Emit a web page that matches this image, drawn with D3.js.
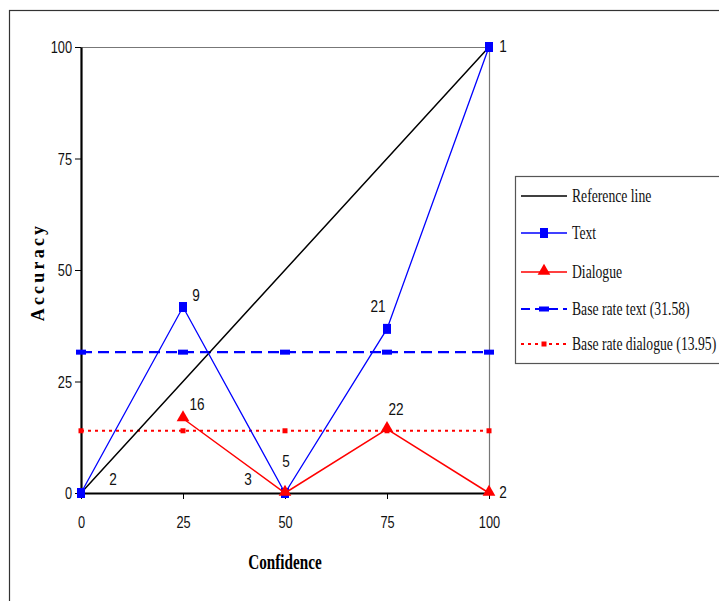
<!DOCTYPE html>
<meta charset="utf-8">
<script src="https://d3js.org/d3.v7.min.js"></script>
<style>
    body { margin: 0; background: #fff; }
    svg { display: block; }
</style>
<div id="viz_area"></div>
<script>
    // data
    var confidence = [0, 25, 50, 75, 100]
    var referenceLine = [0, 25, 50, 75, 100]
    var textAcc = [0, 41.7, 0, 36.8, 100]
    var dialogueAcc = [null, 16.7, 0, 14.3, 0]
    var textCounts = [2, 9, 5, 21, 1]
    var dialogueCounts = [null, 16, 3, 22, 2]
    var baseRateText = 31.58
    var baseRateDialogue = 13.95
    var xTicks = [0, 25, 50, 75, 100]
    var yTicks = [0, 25, 50, 75, 100]
    var legendLabels = ["Reference line", "Text", "Dialogue", "Base rate text (31.58)", "Base rate dialogue (13.95)"]

    // label offsets (layout only)
    var textLabelOff = [[32, -8], [13, -6], [1, -26], [-9, -17], [14, 5]]
    var dialogueLabelOff = [null, [14, -9], [-37, -8], [9, -14], [14, 5]]

    var W = 719, H = 601
    var margin = { left: 81, top: 47 }
    var w = 489 - 81, h = 493 - 47

    var svg = d3.select("#viz_area").append("svg")
        .attr("width", W).attr("height", H)

    // outer frame
    svg.append("rect")
        .attr("x", 9.5).attr("y", 10.5)
        .attr("width", 740).attr("height", 640)
        .attr("fill", "none").attr("stroke", "#333").attr("stroke-width", 1.2)

    var g = svg.append("g").attr("transform", "translate(" + margin.left + "," + margin.top + ")")

    var x = d3.scaleLinear().domain([0, 100]).range([0, w])
    var y = d3.scaleLinear().domain([0, 100]).range([h, 0])

    var sansFont = "'Liberation Sans', Arial, sans-serif"
    var serifFont = "'Liberation Serif', 'Times New Roman', serif"

    // plot frame (top + right)
    g.append("path")
        .attr("d", "M0,0.5H" + (w + 0.5) + "V" + h)
        .attr("fill", "none").attr("stroke", "#777").attr("stroke-width", 1.2)

    // y axis
    var yAxis = g.append("g")
        .call(d3.axisLeft(y).tickValues(yTicks).tickSize(6).tickSizeOuter(0).tickFormat(d3.format("d")))
    yAxis.select(".domain").attr("stroke", "#000").attr("stroke-width", 2.2)
    yAxis.selectAll(".tick line").attr("stroke", "#000")
    yAxis.selectAll(".tick text")
        .attr("font-family", sansFont).attr("font-size", 16).attr("fill", "#111")
        .attr("x", 0).attr("dy", "0.35em")
        .attr("transform", "translate(-9,0) scale(0.8,1)")

    // x axis
    var xAxis = g.append("g")
        .attr("transform", "translate(0," + h + ")")
        .call(d3.axisBottom(x).tickValues(xTicks).tickSize(6).tickSizeOuter(0).tickFormat(d3.format("d")))
    xAxis.select(".domain").attr("stroke", "#000").attr("stroke-width", 1.8)
    xAxis.selectAll(".tick line").attr("stroke", "#000")
    xAxis.selectAll(".tick text")
        .attr("font-family", sansFont).attr("font-size", 16).attr("fill", "#111")
        .attr("y", 0).attr("dy", "0.35em")
        .attr("transform", "translate(0,29) scale(0.8,1)")

    // axis titles
    svg.append("text")
        .attr("transform", "translate(285,569) scale(0.76,1)")
        .attr("text-anchor", "middle")
        .attr("font-family", serifFont).attr("font-weight", "bold").attr("font-size", 20)
        .text("Confidence")

    svg.append("text")
        .attr("transform", "translate(44,272) rotate(-90)")
        .attr("text-anchor", "middle")
        .attr("font-family", serifFont).attr("font-weight", "bold").attr("font-size", 18)
        .attr("letter-spacing", "3.2px")
        .text("Accuracy")

    var line = d3.line()
        .defined(function(d) { return d != null })
        .x(function(d, i) { return x(confidence[i]) })
        .y(function(d) { return y(d) })

    // base rate lines
    var baseText = confidence.map(function() { return baseRateText })
    var baseDial = confidence.map(function() { return baseRateDialogue })

    g.append("path").datum(baseText)
        .attr("d", line).attr("fill", "none")
        .attr("stroke", "#0000ff").attr("stroke-width", 2.2)
        .attr("stroke-dasharray", "11,6")
    g.selectAll(".bt-mark").data(baseText).enter().append("rect")
        .attr("x", function(d, i) { return x(confidence[i]) - 5 })
        .attr("y", function(d) { return y(d) - 2.5 })
        .attr("width", 10).attr("height", 5).attr("fill", "#0000ff")

    g.append("path").datum(baseDial)
        .attr("d", line).attr("fill", "none")
        .attr("stroke", "#ff0000").attr("stroke-width", 2)
        .attr("stroke-dasharray", "3,4")
    g.selectAll(".bd-mark").data(baseDial).enter().append("rect")
        .attr("x", function(d, i) { return x(confidence[i]) - 2.5 })
        .attr("y", function(d) { return y(d) - 2.5 })
        .attr("width", 5).attr("height", 5).attr("fill", "#ff0000")

    // reference line
    g.append("path").datum(referenceLine)
        .attr("d", line).attr("fill", "none")
        .attr("stroke", "#000").attr("stroke-width", 1.5)

    // text series
    g.append("path").datum(textAcc)
        .attr("d", line).attr("fill", "none")
        .attr("stroke", "#0000ff").attr("stroke-width", 1.3)
    g.selectAll(".t-mark").data(textAcc).enter().append("rect")
        .attr("x", function(d, i) { return x(confidence[i]) - 4 })
        .attr("y", function(d) { return y(d) - 5 })
        .attr("width", 8).attr("height", 10).attr("fill", "#0000ff")

    // dialogue series
    g.append("path").datum(dialogueAcc)
        .attr("d", line).attr("fill", "none")
        .attr("stroke", "#ff0000").attr("stroke-width", 1.5)
    var tri = d3.symbol().type(d3.symbolTriangle).size(70)
    g.selectAll(".d-mark").data(dialogueAcc).enter().append("path")
        .attr("d", tri)
        .attr("display", function(d) { return d == null ? "none" : null })
        .attr("transform", function(d, i) {
            return "translate(" + x(confidence[i]) + "," + (y(d || 0) - 1) + ")"
        })
        .attr("fill", "#ff0000")

    // count labels
    function addLabels(vals, counts, offs) {
        counts.forEach(function(c, i) {
            if (c == null) return
            g.append("text")
                .attr("transform", "translate(" + (x(confidence[i]) + offs[i][0]) + "," + (y(vals[i]) + offs[i][1]) + ") scale(0.85,1)")
                .attr("text-anchor", "middle")
                .attr("font-family", sansFont).attr("font-size", 16).attr("fill", "#111")
                .text(c)
        })
    }
    addLabels(textAcc, textCounts, textLabelOff)
    addLabels(dialogueAcc, dialogueCounts, dialogueLabelOff)

    // legend
    var lg = svg.append("g")
    lg.append("rect")
        .attr("x", 515.5).attr("y", 176.5)
        .attr("width", 220).attr("height", 187)
        .attr("fill", "#fff").attr("stroke", "#555").attr("stroke-width", 1.2)

    var rowsY = [196, 233, 272, 309, 344]
    var legendStyle = [
        { color: "#000", dash: null, width: 1.5, mark: null },
        { color: "#0000ff", dash: null, width: 1.5, mark: "square" },
        { color: "#ff0000", dash: null, width: 1.5, mark: "triangle" },
        { color: "#0000ff", dash: "9,5", width: 2.2, mark: "bar" },
        { color: "#ff0000", dash: "3,4", width: 2, mark: "dot" }
    ]
    legendLabels.forEach(function(lab, i) {
        var s = legendStyle[i], yy = rowsY[i]
        lg.append("line")
            .attr("x1", 521).attr("x2", 567).attr("y1", yy).attr("y2", yy)
            .attr("stroke", s.color).attr("stroke-width", s.width)
            .attr("stroke-dasharray", s.dash)
        if (s.mark == "square") {
            lg.append("rect").attr("x", 540).attr("y", yy - 5).attr("width", 8).attr("height", 10).attr("fill", s.color)
        } else if (s.mark == "triangle") {
            lg.append("path").attr("d", tri).attr("transform", "translate(544," + (yy - 1) + ")").attr("fill", s.color)
        } else if (s.mark == "bar") {
            lg.append("rect").attr("x", 539).attr("y", yy - 2.5).attr("width", 10).attr("height", 5).attr("fill", s.color)
        } else if (s.mark == "dot") {
            lg.append("rect").attr("x", 541.5).attr("y", yy - 2.5).attr("width", 5).attr("height", 5).attr("fill", s.color)
        }
        lg.append("text")
            .attr("transform", "translate(572," + (yy + 6) + ") scale(0.76,1)")
            .attr("font-family", serifFont).attr("font-size", 18).attr("fill", "#111")
            .text(lab)
    })
</script>
